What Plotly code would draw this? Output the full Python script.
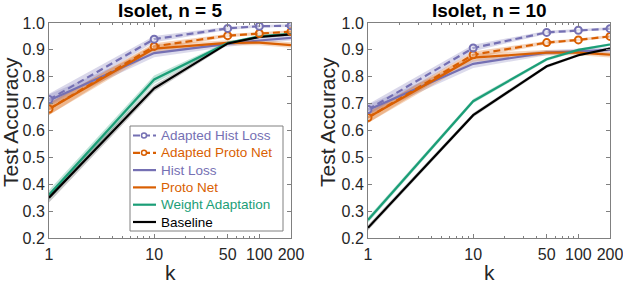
import plotly.graph_objects as go
from plotly.subplots import make_subplots

k = [1, 10, 50, 100, 200]
tick_vals = [1, 10, 50, 100, 200]
tick_text = ["1", "10", "50", "100", "200"]
minor_vals = [2, 3, 4, 5, 6, 7, 8, 9, 20, 30, 40, 60, 70, 80, 90]
y_ticks = [0.2, 0.3, 0.4, 0.5, 0.6, 0.7, 0.8, 0.9, 1.0]
titles = ["Isolet, n = 5", "Isolet, n = 10"]

series_names = ["Adapted Hist Loss", "Adapted Proto Net", "Hist Loss", "Proto Net",
                "Weight Adaptation", "Baseline"]

# n = 5
adapted_hist_5 = [0.715, 0.940, 0.980, 0.988, 0.990]
adapted_proto_5 = [0.680, 0.913, 0.953, 0.961, 0.968]
hist_5 = [0.712, 0.888, 0.922, 0.935, 0.945]
proto_5 = [0.680, 0.905, 0.926, 0.927, 0.918]
weight_5 = [0.360, 0.790, 0.925, 0.950, 0.960]
base_5 = [0.350, 0.757, 0.924, 0.948, 0.958]
adapted_hist_5_sd = [0.022, 0.012, 0.006, 0.005, 0.005]
adapted_proto_5_sd = [0.022, 0.012, 0.006, 0.005, 0.005]
hist_5_sd = [0.022, 0.015, 0.010, 0.010, 0.010]
proto_5_sd = [0.022, 0.015, 0.010, 0.010, 0.010]
weight_5_sd = [0.018, 0.015, 0.006, 0.005, 0.005]
base_5_sd = [0.018, 0.012, 0.006, 0.005, 0.005]

# n = 10
adapted_hist_10 = [0.678, 0.907, 0.965, 0.973, 0.979]
adapted_proto_10 = [0.648, 0.882, 0.927, 0.937, 0.950]
hist_10 = [0.676, 0.848, 0.890, 0.895, 0.900]
proto_10 = [0.648, 0.871, 0.890, 0.890, 0.882]
weight_10 = [0.267, 0.709, 0.865, 0.900, 0.920]
base_10 = [0.238, 0.657, 0.839, 0.880, 0.905]
adapted_hist_10_sd = [0.020, 0.012, 0.006, 0.005, 0.005]
adapted_proto_10_sd = [0.020, 0.012, 0.006, 0.005, 0.005]
hist_10_sd = [0.020, 0.015, 0.010, 0.010, 0.010]
proto_10_sd = [0.020, 0.015, 0.010, 0.010, 0.010]
weight_10_sd = [0.010, 0.008, 0.006, 0.005, 0.005]
base_10_sd = [0.010, 0.008, 0.006, 0.005, 0.005]

data = [
    [adapted_hist_5, adapted_proto_5, hist_5, proto_5, weight_5, base_5],
    [adapted_hist_10, adapted_proto_10, hist_10, proto_10, weight_10, base_10],
]
sds = [
    [adapted_hist_5_sd, adapted_proto_5_sd, hist_5_sd, proto_5_sd, weight_5_sd, base_5_sd],
    [adapted_hist_10_sd, adapted_proto_10_sd, hist_10_sd, proto_10_sd, weight_10_sd, base_10_sd],
]

colors = ["#7570b3", "#d95f02", "#7570b3", "#d95f02", "#1b9e77", "#000000"]
band_colors = ["rgba(117,112,179,0.28)", "rgba(217,95,2,0.28)", "rgba(117,112,179,0.25)",
               "rgba(217,95,2,0.25)", "rgba(27,158,119,0.28)", "rgba(0,0,0,0.22)"]
dashed = [True, True, False, False, False, False]
markers = [True, True, False, False, False, False]

FONT = "Liberation Sans, Arial, sans-serif"
AX = "#808080"
TXT = "#262626"

fig = make_subplots(rows=1, cols=2)

draw_order = [2, 3, 4, 5, 1, 0]
for col in range(2):
    for i in draw_order:
        y = data[col][i]
        sd = sds[col][i]
        upper = [a + b for a, b in zip(y, sd)]
        lower = [a - b for a, b in zip(y, sd)]
        fig.add_trace(go.Scatter(x=k + k[::-1], y=upper + lower[::-1], fill="toself",
                                 fillcolor=band_colors[i], line=dict(width=0),
                                 mode="lines", showlegend=False, hoverinfo="skip"),
                      row=1, col=col + 1)
for col in range(2):
    for i in draw_order:
        y = data[col][i]
        fig.add_trace(go.Scatter(
            x=k, y=y,
            mode="lines+markers" if markers[i] else "lines",
            line=dict(color=colors[i], width=2.2, dash="7px,4px" if dashed[i] else "solid"),
            marker=dict(symbol="circle", size=7, color="rgba(255,255,255,0.35)",
                        line=dict(color=colors[i], width=2)) if markers[i] else None,
            name=series_names[i], showlegend=False),
            row=1, col=col + 1)

W, H = 623, 283
x_doms = [[49 / W, 291 / W], [368 / W, 610 / W]]
y_dom = [1 - 238 / H, 1 - 23 / H]
ytitle_x = [11, 328]


def px(x):
    return x / W


def py(y):
    return 1 - y / H


for col in range(2):
    xa = "xaxis" if col == 0 else "xaxis2"
    ya = "yaxis" if col == 0 else "yaxis2"
    fig.layout[xa].update(
        type="log", range=[0, 2.30103], domain=x_doms[col], automargin=False,
        tickvals=tick_vals, ticktext=tick_text, ticks="inside", ticklen=4,
        tickcolor=AX, showline=True, linecolor=AX, linewidth=1,
        mirror="ticks", showgrid=False, zeroline=False, ticklabelstandoff=2,
        ticklabeloverflow="allow",
        tickfont=dict(family=FONT, size=16, color=TXT),
        minor=dict(tickmode="array", tickvals=minor_vals, ticks="inside", ticklen=2,
                   tickcolor=AX, showgrid=False),
        anchor="y" if col == 0 else "y2")
    fig.layout[ya].update(
        range=[0.2, 1.0], domain=y_dom, tickvals=y_ticks, automargin=False,
        ticktext=[f"{v:.1f}" for v in y_ticks], ticks="inside", ticklen=4,
        tickcolor=AX, showline=True, linecolor=AX, linewidth=1,
        mirror="ticks", showgrid=False, zeroline=False, ticklabeloverflow="allow",
        tickfont=dict(family=FONT, size=16, color=TXT),
        anchor="x" if col == 0 else "x2")
    xc = (x_doms[col][0] + x_doms[col][1]) / 2
    fig.add_annotation(text=f"<b>{titles[col]}</b>", xref="paper", yref="paper",
                       x=xc, y=py(10), xanchor="center", yanchor="middle", showarrow=False,
                       font=dict(family=FONT, size=19, color="#000000"))
    fig.add_annotation(text="k", xref="paper", yref="paper", x=xc, y=py(272),
                       xanchor="center", yanchor="middle", showarrow=False,
                       font=dict(family=FONT, size=21, color=TXT))
    fig.add_annotation(text="Test Accuracy", xref="paper", yref="paper",
                       x=px(ytitle_x[col]), y=py(122), textangle=-90,
                       xanchor="center", yanchor="middle", showarrow=False,
                       font=dict(family=FONT, size=21, color=TXT))

# Legend drawn inside the left panel (paper coordinates)
fig.add_shape(type="rect", xref="paper", yref="paper", x0=px(130), x1=px(283),
              y0=py(231), y1=py(126), fillcolor="white", line=dict(color=AX, width=1),
              layer="above")
row0, row_gap = 135.5, 17.3
for i, name in enumerate(series_names):
    yc = row0 + i * row_gap
    fig.add_shape(type="line", xref="paper", yref="paper", x0=px(133), x1=px(156),
                  y0=py(yc), y1=py(yc), layer="above",
                  line=dict(color=colors[i], width=2.2,
                            dash="7px,3px" if dashed[i] else "solid"))
    if markers[i]:
        fig.add_shape(type="circle", xref="paper", yref="paper", x0=px(141.5), x1=px(146.5),
                      y0=py(yc + 2.5), y1=py(yc - 2.5), layer="above",
                      fillcolor="white", line=dict(color=colors[i], width=1.5))
    fig.add_annotation(text=name, xref="paper", yref="paper", x=px(159), y=py(yc),
                       xanchor="left", yanchor="middle", showarrow=False,
                       font=dict(family=FONT, size=13.5, color=colors[i]))

fig.update_layout(
    width=W, height=H, margin=dict(l=0, r=0, t=0, b=0, autoexpand=False),
    paper_bgcolor="white", plot_bgcolor="white",
    showlegend=False,
)

fig.write_html("out.html", config={"displayModeBar": False},
               post_script="document.body.style.margin='0';document.body.style.padding='0';")
